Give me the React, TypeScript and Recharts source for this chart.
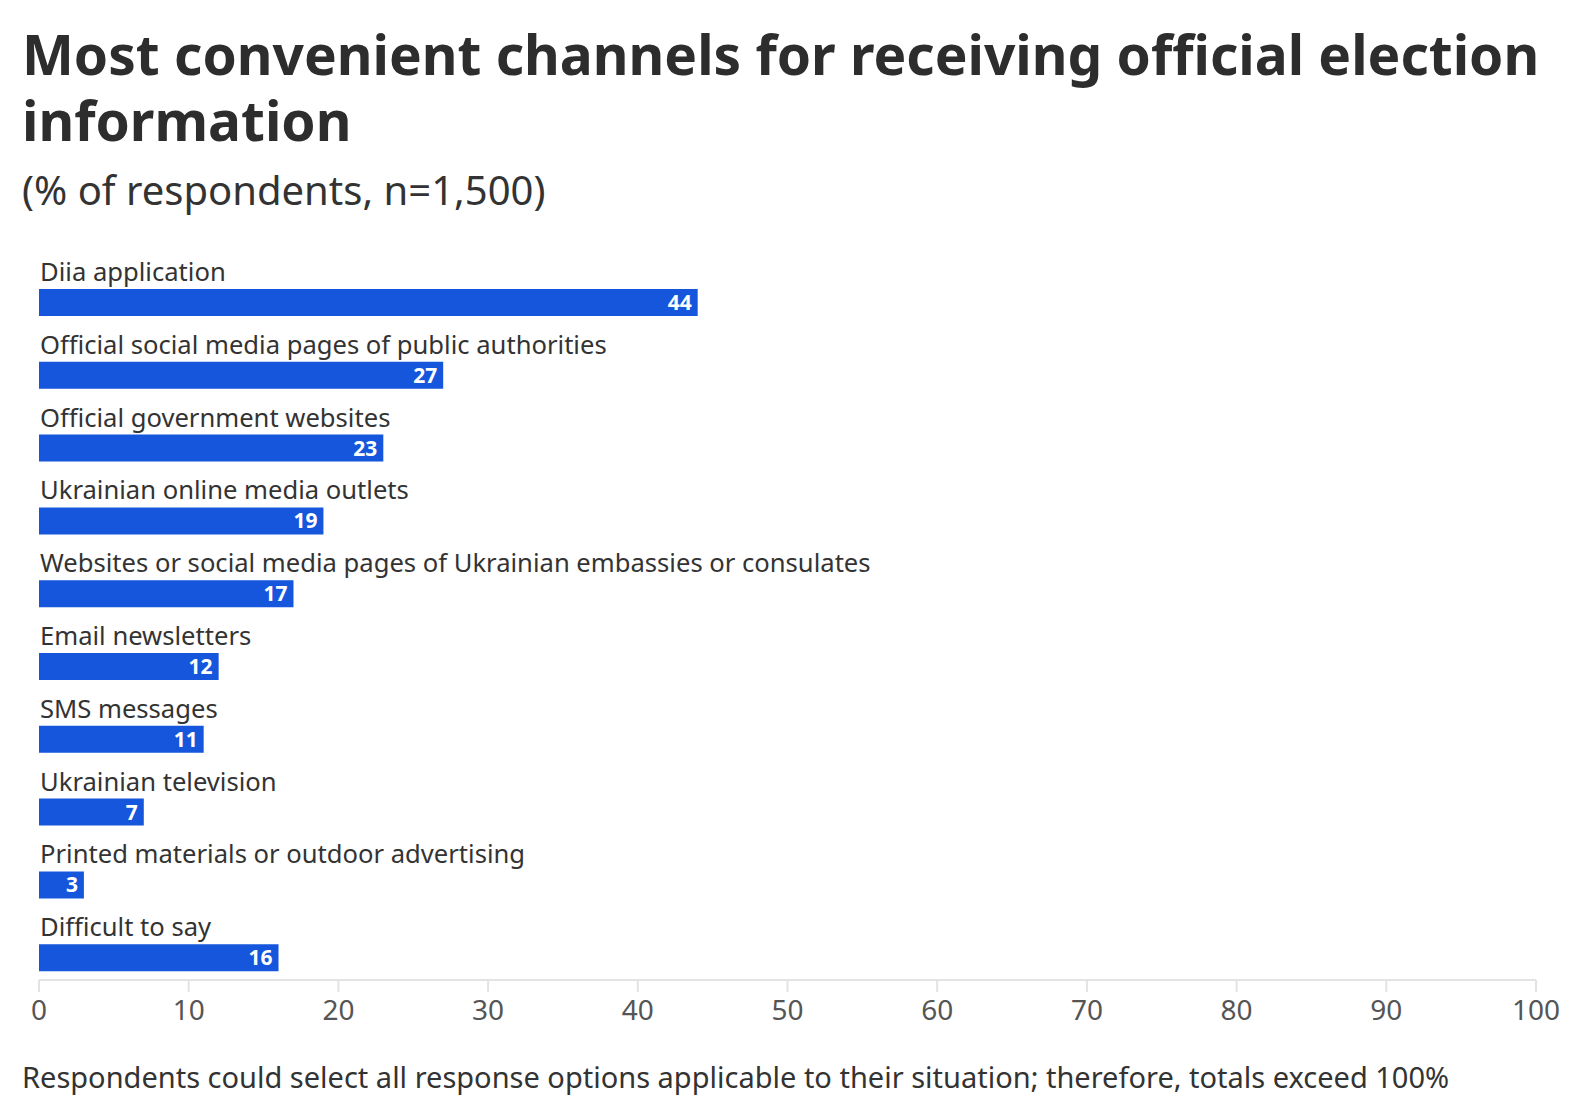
import { Bar, BarChart, LabelList, XAxis, YAxis } from "recharts";

const channels = [
  "Diia application",
  "Official social media pages of public authorities",
  "Official government websites",
  "Ukrainian online media outlets",
  "Websites or social media pages of Ukrainian embassies or consulates",
  "Email newsletters",
  "SMS messages",
  "Ukrainian television",
  "Printed materials or outdoor advertising",
  "Difficult to say",
];

const shares = [44, 27, 23, 19, 17, 12, 11, 7, 3, 16];

const xTicks = [0, 10, 20, 30, 40, 50, 60, 70, 80, 90, 100];

const data = channels.map((name, i) => ({ name, value: shares[i] }));

const FONT = "'Noto Sans', sans-serif";
const BLUE = "#1556dc";

// category name sits just above its bar, flush with the axis start
const CategoryLabel = (props: any) => {
  const { x, y, value } = props;
  return (
    <text
      x={Number(x) + 1}
      y={Number(y) - 8}
      fill="#333"
      fontSize={25.6}
      fontFamily={FONT}
    >
      {value}
    </text>
  );
};

export default function App() {
  return (
    <div
      style={{
        position: "absolute",
        left: 0,
        top: 0,
        width: 1590,
        height: 1116,
        background: "#fff",
        fontFamily: FONT,
      }}
    >
      <BarChart
        width={1590}
        height={1116}
        data={data}
        layout="vertical"
        margin={{ top: 266, right: 54, bottom: 76, left: 39 }}
      >
        <XAxis
          type="number"
          domain={[0, 100]}
          ticks={xTicks}
          height={60}
          stroke="#e3e3e3"
          strokeWidth={2}
          tickSize={12}
          tickMargin={8}
          tick={{ fill: "#555", fontSize: 28, fontFamily: FONT }}
        />
        <YAxis
          type="category"
          dataKey="name"
          hide
          padding={{ top: 0, bottom: -14 }}
        />
        <Bar
          dataKey="value"
          fill={BLUE}
          barSize={27}
          isAnimationActive={false}
        >
          <LabelList dataKey="name" content={CategoryLabel} />
          <LabelList
            dataKey="value"
            position="insideRight"
            offset={6}
            fill="#fff"
            fontSize={21}
            fontWeight={700}
            fontFamily={FONT}
          />
        </Bar>
      </BarChart>

      <svg
        width={1590}
        height={1116}
        style={{ position: "absolute", left: 0, top: 0, pointerEvents: "none" }}
      >
        <text x={22} y={75} fontSize={55} fontWeight={700} fill="#2d2d2d" fontFamily={FONT}>
          Most convenient channels for receiving official election
        </text>
        <text x={22} y={141} fontSize={55} fontWeight={700} fill="#2d2d2d" fontFamily={FONT}>
          information
        </text>
        <text x={22} y={205} fontSize={40} fill="#333" fontFamily={FONT}>
          (% of respondents, n=1,500)
        </text>
        <text x={22} y={1088} fontSize={29} fill="#333" fontFamily={FONT}>
          Respondents could select all response options applicable to their situation; therefore, totals exceed 100%
        </text>
      </svg>
    </div>
  );
}
